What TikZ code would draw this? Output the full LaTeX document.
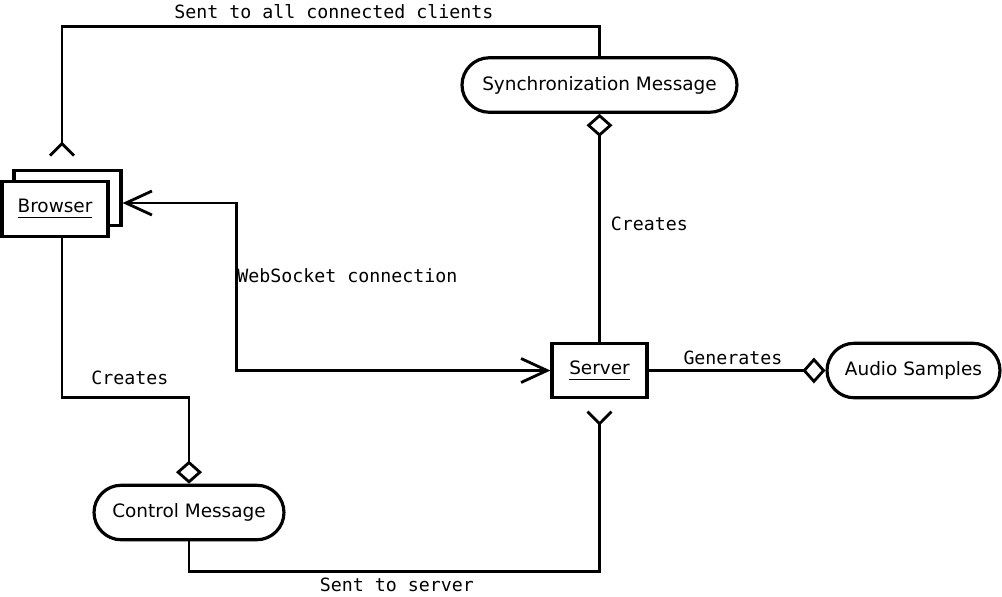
\documentclass[tikz,border=0pt]{standalone}
\usepackage{fontspec}
\setmainfont{DejaVu Sans}
\setmonofont{DejaVu Sans Mono}
\usetikzlibrary{arrows.meta,shapes.misc}

\tikzset{
  obj/.style={draw, line width=1.8pt, fill=white, minimum width=#1, minimum height=1.09cm, inner sep=0pt},
  msg/.style={draw, rounded rectangle, line width=1.8pt, minimum width=#1, minimum height=1.09cm, inner sep=0pt},
  lbl/.style={font=\fontsize{10.4}{12}\ttfamily, inner sep=0pt},
  link/.style={line width=1.6pt},
  agg/.style={-{Diamond[open,length=0.46cm,width=0.52cm]}},
  nav/.style={-{Straight Barb[reversed,length=0.24cm,width=0.48cm]}},
  barb/.tip={Straight Barb[length=0.52cm,width=0.48cm]},
}

\begin{document}
\begin{tikzpicture}[x=0.02cm, y=-0.02cm, font=\fontsize{10.5}{12}\selectfont]
  \useasboundingbox (0,0) rectangle (1002,596);

  % objects
  \node[obj=2.14cm] (bback) at (67.5,198) {};
  \node[obj=2.12cm] (bfront) at (55,209) {\underline{Browser\vphantom{,}}};
  \node[obj=1.9cm] (server) at (599.5,370.5) {\underline{Server\vphantom{,}}};

  % messages
  \node[msg=5.5cm] (sync) at (599.5,85) {Synchronization Message};
  \node[msg=3.46cm] (audio) at (913.5,370.5) {Audio Samples};
  \node[msg=3.8cm] (ctrl) at (189,512.5) {Control Message};

  \coordinate (bup) at (62,157);

  % connectors
  \draw[link,nav] (sync.north) -- ++(0,-30) -| (bup);
  \draw[link,agg] (server.north) -- (sync.south);
  \draw[link,agg] (server.east) -- (audio.west);
  \draw[link,barb-barb] ([yshift=-0.1cm]bback.east) -- ++(114,0) |- (server.west);
  \draw[link,agg] ([xshift=0.14cm]bfront.south) -- ++(0,160) -| (ctrl.north);
  \draw[link,nav] (ctrl.south) -- ++(0,30) -| ([yshift=-0.22cm]server.south);

  % labels
  \node[lbl] (lblall) at (334,12) {Sent to all connected clients};
  \node[lbl] (lblcreates) at (649.5,224) {Creates};
  \node[lbl] (lblws) at (347.5,276) {WebSocket connection};
  \node[lbl] (lblgen) at (733,358) {Generates};
  \node[lbl] (lblctrl) at (130,378) {Creates};
  \node[lbl] (lblsrv) at (397,585) {Sent to server};
\end{tikzpicture}
\end{document}
